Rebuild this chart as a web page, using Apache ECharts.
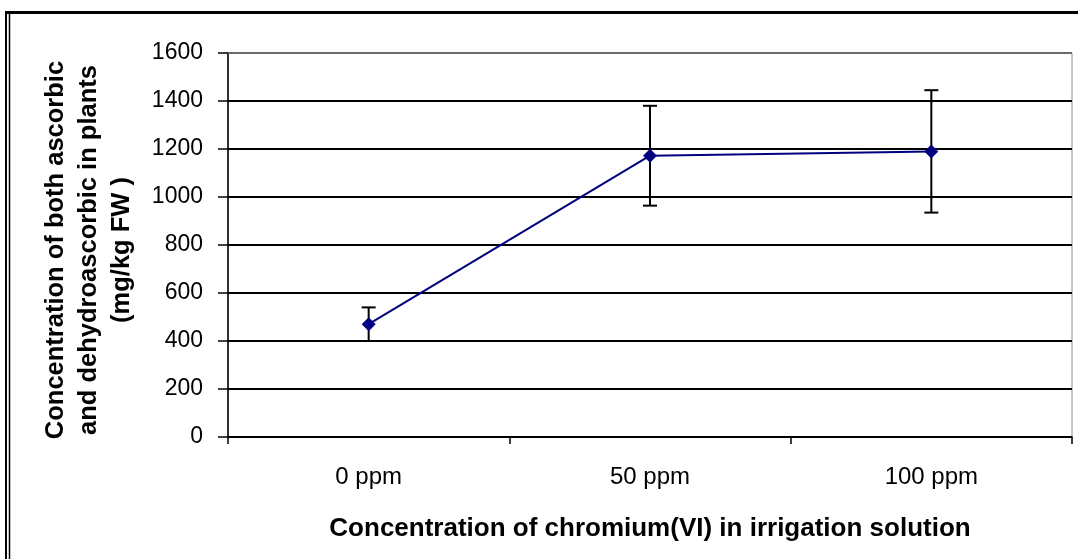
<!DOCTYPE html>
<html>
<head>
<meta charset="utf-8">
<script src="https://cdn.jsdelivr.net/npm/echarts@6/dist/echarts.min.js"></script>
<style>
  html, body { margin: 0; padding: 0; background: #fff; }
  #chart { width: 1078px; height: 559px; }
</style>
</head>
<body>
<div id="chart"></div>
<script>
// Chromium(VI) treatments and the measured vitamin C content
const categories = ['0 ppm', '50 ppm', '100 ppm'];
const meanValues = [470, 1172, 1190];
const errorValues = [70, 208, 255];
const yTicks = [0, 200, 400, 600, 800, 1000, 1200, 1400, 1600];

const xTitle = 'Concentration of chromium(VI) in irrigation solution';
const yTitle = 'Concentration of both ascorbic\nand dehydroascorbic in plants\n(mg/kg FW )';

const FONT = '"Liberation Sans", Arial, sans-serif';

const errorData = categories.map((c, i) => [i, meanValues[i] - errorValues[i], meanValues[i] + errorValues[i]]);

const chart = echarts.init(document.getElementById('chart'), null, { renderer: 'canvas' });

chart.setOption({
  animation: false,
  backgroundColor: '#fff',
  grid: { left: 228, right: 6, top: 53, bottom: 122, show: true, borderColor: '#8c8c8c', borderWidth: 1 },
  xAxis: {
    type: 'category',
    data: categories,
    boundaryGap: true,
    axisLine: { lineStyle: { color: '#000', width: 1.5 } },
    axisTick: { show: true, length: 7, lineStyle: { color: '#000', width: 1.5 } },
    axisLabel: { color: '#000', fontFamily: FONT, fontSize: 24, margin: 28 },
    name: xTitle,
    nameLocation: 'middle',
    nameGap: 79,
    nameTextStyle: { color: '#000', fontFamily: FONT, fontSize: 26, fontWeight: 'bold' }
  },
  yAxis: {
    type: 'value',
    min: yTicks[0],
    max: yTicks[yTicks.length - 1],
    interval: yTicks[1] - yTicks[0],
    axisLine: { show: true, lineStyle: { color: '#000', width: 1.5 } },
    axisTick: { show: true, length: 10, lineStyle: { color: '#000', width: 1.5 } },
    axisLabel: { color: '#000', fontFamily: FONT, fontSize: 23, margin: 25, formatter: v => String(v) },
    splitLine: { show: true, lineStyle: { color: '#000', width: 1.8 } }
  },
  series: [
    {
      type: 'line',
      data: meanValues,
      symbol: 'diamond',
      symbolSize: 14,
      lineStyle: { color: '#000080', width: 2 },
      itemStyle: { color: '#000080' },
      z: 3
    },
    {
      type: 'custom',
      data: errorData,
      z: 2,
      renderItem: function (params, api) {
        const x = api.value(0);
        const lo = api.coord([x, api.value(1)]);
        const hi = api.coord([x, api.value(2)]);
        const cap = 7;
        const style = { stroke: '#000', lineWidth: 2 };
        return {
          type: 'group',
          children: [
            { type: 'line', shape: { x1: lo[0], y1: lo[1], x2: hi[0], y2: hi[1] }, style: style },
            { type: 'line', shape: { x1: hi[0] - cap, y1: hi[1], x2: hi[0] + cap, y2: hi[1] }, style: style },
            { type: 'line', shape: { x1: lo[0] - cap, y1: lo[1], x2: lo[0] + cap, y2: lo[1] }, style: style }
          ]
        };
      }
    }
  ]
});

// Plot frame top edge in grey, rotated y title and the outer page frame
const topY = chart.convertToPixel({ yAxisIndex: 0 }, yTicks[yTicks.length - 1]);
chart.setOption({
  graphic: [
    { type: 'line', z: 50, shape: { x1: 228, y1: topY, x2: 1072, y2: topY }, style: { stroke: '#8c8c8c', lineWidth: 1.5 } },
    {
      type: 'text', z: 50, x: 89, y: 250, rotation: Math.PI / 2,
      style: {
        text: yTitle, fill: '#000', font: 'bold 25.5px ' + FONT,
        align: 'center', verticalAlign: 'middle', lineHeight: 33
      }
    },
    { type: 'line', z: 50, shape: { x1: 5, y1: 12.5, x2: 1078, y2: 12.5 }, style: { stroke: '#000', lineWidth: 3 } },
    { type: 'line', z: 50, shape: { x1: 6, y1: 11, x2: 6, y2: 559 }, style: { stroke: '#000', lineWidth: 2 } },
    { type: 'line', z: 50, shape: { x1: 9.5, y1: 11, x2: 9.5, y2: 559 }, style: { stroke: '#000', lineWidth: 1.5 } }
  ]
});
</script>
</body>
</html>
